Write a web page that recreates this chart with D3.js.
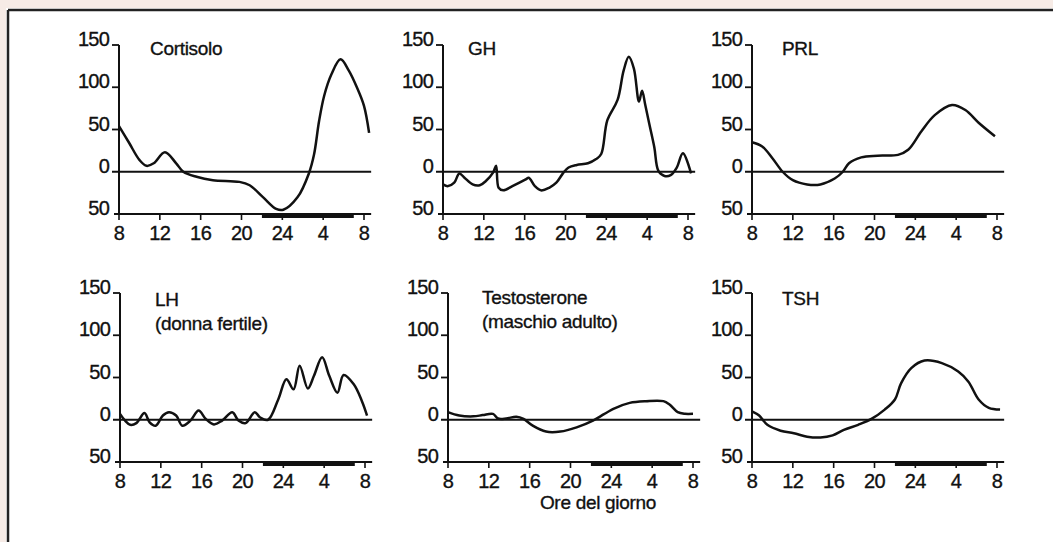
<!DOCTYPE html>
<html>
<head>
<meta charset="utf-8">
<script src="https://cdn.jsdelivr.net/npm/d3@7"></script>
<style>
  html, body { margin: 0; padding: 0; background: #ffffff; }
  svg { display: block; }
  text { font-family: "Liberation Sans", Arial, Helvetica, sans-serif; fill: #111; stroke: #111; stroke-width: 0.35px; }
</style>
</head>
<body>
<script>
// ---------------- DATA ----------------
const hourTicks = [8, 12, 16, 20, 24, 28, 32];
const hourTickLabels = ["8", "12", "16", "20", "24", "4", "8"];
const valueTicks = [150, 100, 50, 0, -50];
const valueTickLabels = ["150", "100", "50", "0", "50"];
const nightStart = 22, nightEnd = 31;

const cortisoloHours  = [8, 9, 10, 10.7, 11.4, 12.5, 13.6, 14.3, 15.6, 17.2, 19.8, 20.8, 22.1, 23.4, 24.1, 25.5, 26.6, 27.1, 27.6, 28.1, 28.8, 29.7, 30.5, 31.3, 32, 32.5];
const cortisoloValues = [54, 34, 14, 7, 10, 23, 10, 0, -6, -10, -12, -16, -30, -44, -45, -30, -2, 20, 60, 90, 115, 133, 120, 100, 78, 46];

const ghHours  = [8, 8.5, 9.1, 9.6, 10.1, 10.9, 11.6, 12.2, 12.9, 13.2, 13.45, 13.9, 14.8, 16.1, 16.4, 17, 17.6, 18.4, 19.1, 19.8, 20.3, 21.1, 22.2, 23, 23.5, 24.1, 25.1, 25.7, 26.2, 26.7, 27.2, 27.5, 27.8, 28.2, 28.7, 29.1, 29.7, 30.3, 30.9, 31.5, 32.3];
const ghValues = [-15, -17, -13, -2, -7, -15, -16, -11, -1, 7, -19, -22, -17, -9, -7, -17, -22, -19, -13, -1, 5, 8, 10, 15, 21, 61, 85, 120, 136, 122, 83, 96, 80, 57, 29, 1, -5, -4, 5, 22, -2];

const prlHours  = [8, 9, 10, 11, 12, 13.4, 14.7, 16.1, 16.9, 17.5, 18.7, 20.3, 22.3, 23.3, 24.6, 25.9, 27.6, 28.9, 30.2, 31.8];
const prlValues = [35, 30, 16, 0, -10, -15, -15, -8, 0, 10, 17, 19, 20, 26, 48, 67, 79, 73, 58, 42];

const lhHours  = [8, 8.5, 9, 9.6, 10.4, 10.9, 11.5, 12.2, 12.8, 13.5, 14.1, 14.9, 15.7, 16.4, 17.2, 18, 19, 19.6, 20.3, 21.2, 21.7, 22.5, 23.5, 24.3, 25, 25.6, 26.4, 27, 27.8, 28.5, 29.3, 29.9, 30.9, 31.7, 32.2];
const lhValues = [7, -1, -6, -4, 8, -3, -7, 5, 9, 5, -7, -1, 11, 1, -5.5, -1, 9, -1, -4, 9, 3, 0, 24, 48, 36, 64, 37, 52, 74, 52, 32, 53, 42, 22, 5];

const testoHours  = [8, 9.1, 10.5, 11.4, 12.4, 12.9, 13.7, 14.7, 15.4, 16.3, 17.6, 19, 20.6, 22.2, 24.2, 25.8, 27.4, 29.1, 29.7, 30.5, 31.2, 32];
const testoValues = [9, 5, 4, 5.5, 7, 1.5, 1.5, 3.5, 1, -7, -14, -14, -9, -1, 13, 20, 22, 22, 18, 9, 7, 7];

const tshHours  = [8, 8.7, 9.5, 10.8, 12.1, 13.4, 14.7, 15.9, 17, 18.4, 19.7, 21, 22, 22.6, 23.6, 24.9, 26.6, 28.2, 29.2, 30.2, 31.2, 32.3];
const tshValues = [10, 5, -6, -13, -16, -20, -21, -18.5, -12, -6, 1, 12, 24, 43, 61, 70, 67, 57, 45, 24, 14, 12];

const panelTitles = [["Cortisolo"], ["GH"], ["PRL"], ["LH", "(donna fertile)"], ["Testosterone", "(maschio adulto)"], ["TSH"]];
const panelHours  = [cortisoloHours, ghHours, prlHours, lhHours, testoHours, tshHours];
const panelValues = [cortisoloValues, ghValues, prlValues, lhValues, testoValues, tshValues];
const xAxisTitle = "Ore del giorno";

// ---------------- LAYOUT ----------------
const W = 1053, H = 542;
const panelX = [119, 443, 752, 120, 448, 752];
const panelTop = [45, 45, 45, 293, 293, 293];
const plotW = 245, plotH = 169;
const titleDX = [31, 25, 30, 35, 34, 30];
const titleDY = [10, 10, 10, 13, 11, 12];

const svg = d3.select("body").append("svg").attr("width", W).attr("height", H);
svg.append("rect").attr("width", W).attr("height", H).attr("fill", "#ffffff");
// scan edges
svg.append("rect").attr("x", 0).attr("y", 0).attr("width", W).attr("height", 8).attr("fill", "#f6ebe6");
svg.append("rect").attr("x", 0).attr("y", 0).attr("width", 6).attr("height", H).attr("fill", "#f6ebe6");
svg.append("line").attr("x1", 8).attr("x2", W).attr("y1", 10).attr("y2", 10).attr("stroke", "#222").attr("stroke-width", 2.5);
svg.append("line").attr("x1", 8).attr("x2", 8).attr("y1", 10).attr("y2", H).attr("stroke", "#222").attr("stroke-width", 2.5);

const ink = "#111";

panelTitles.forEach((title, i) => {
  const x0 = panelX[i], top = panelTop[i];
  const x = d3.scaleLinear().domain([8, 32]).range([x0, x0 + plotW]);
  const y = d3.scaleLinear().domain([-50, 150]).range([top + plotH, top]);
  const g = svg.append("g");
  const xEnd = x(32.7);

  // y axis
  g.append("line").attr("x1", x0).attr("x2", x0).attr("y1", y(150)).attr("y2", y(-50))
    .attr("stroke", ink).attr("stroke-width", 2);
  valueTicks.forEach((v, k) => {
    if (v > 0) {
      g.append("line").attr("x1", x0 - 7).attr("x2", x0).attr("y1", y(v)).attr("y2", y(v))
        .attr("stroke", ink).attr("stroke-width", 1.8);
    }
    g.append("text").attr("x", x0 - 10).attr("y", y(v) + 1)
      .attr("text-anchor", "end").attr("font-size", 20).attr("letter-spacing", -0.8)
      .text(valueTickLabels[k]);
  });
  // zero line
  g.append("line").attr("x1", x0 - 7).attr("x2", xEnd).attr("y1", y(0)).attr("y2", y(0))
    .attr("stroke", ink).attr("stroke-width", 2);
  // bottom axis
  g.append("line").attr("x1", x0 - 5).attr("x2", xEnd).attr("y1", y(-50)).attr("y2", y(-50))
    .attr("stroke", ink).attr("stroke-width", 2.2);
  hourTicks.forEach((h, k) => {
    g.append("line").attr("x1", x(h)).attr("x2", x(h)).attr("y1", y(-50)).attr("y2", y(-50) + 6)
      .attr("stroke", ink).attr("stroke-width", 1.6);
    g.append("text").attr("x", x(h)).attr("y", y(-50) + 26)
      .attr("text-anchor", "middle").attr("font-size", 20).attr("letter-spacing", -0.5)
      .text(hourTickLabels[k]);
  });
  // night bar
  g.append("rect").attr("x", x(nightStart)).attr("y", y(-50))
    .attr("width", x(nightEnd) - x(nightStart)).attr("height", 4).attr("fill", ink);

  // curve
  const pts = panelHours[i].map((h, k) => [h, panelValues[i][k]]);
  const line = d3.line().x(d => x(d[0])).y(d => y(d[1])).curve(d3.curveCatmullRom.alpha(0.5));
  g.append("path").attr("d", line(pts)).attr("fill", "none")
    .attr("stroke", ink).attr("stroke-width", 2.5).attr("stroke-linejoin", "round");

  // titles
  title.forEach((t, k) => {
    g.append("text").attr("x", x0 + titleDX[i]).attr("y", top + titleDY[i] + k * 24)
      .attr("font-size", 19).attr("letter-spacing", -0.3).text(t);
  });
});

svg.append("text").attr("x", 598).attr("y", 509).attr("text-anchor", "middle")
  .attr("font-size", 19).attr("letter-spacing", -0.3).text(xAxisTitle);
</script>
</body>
</html>
